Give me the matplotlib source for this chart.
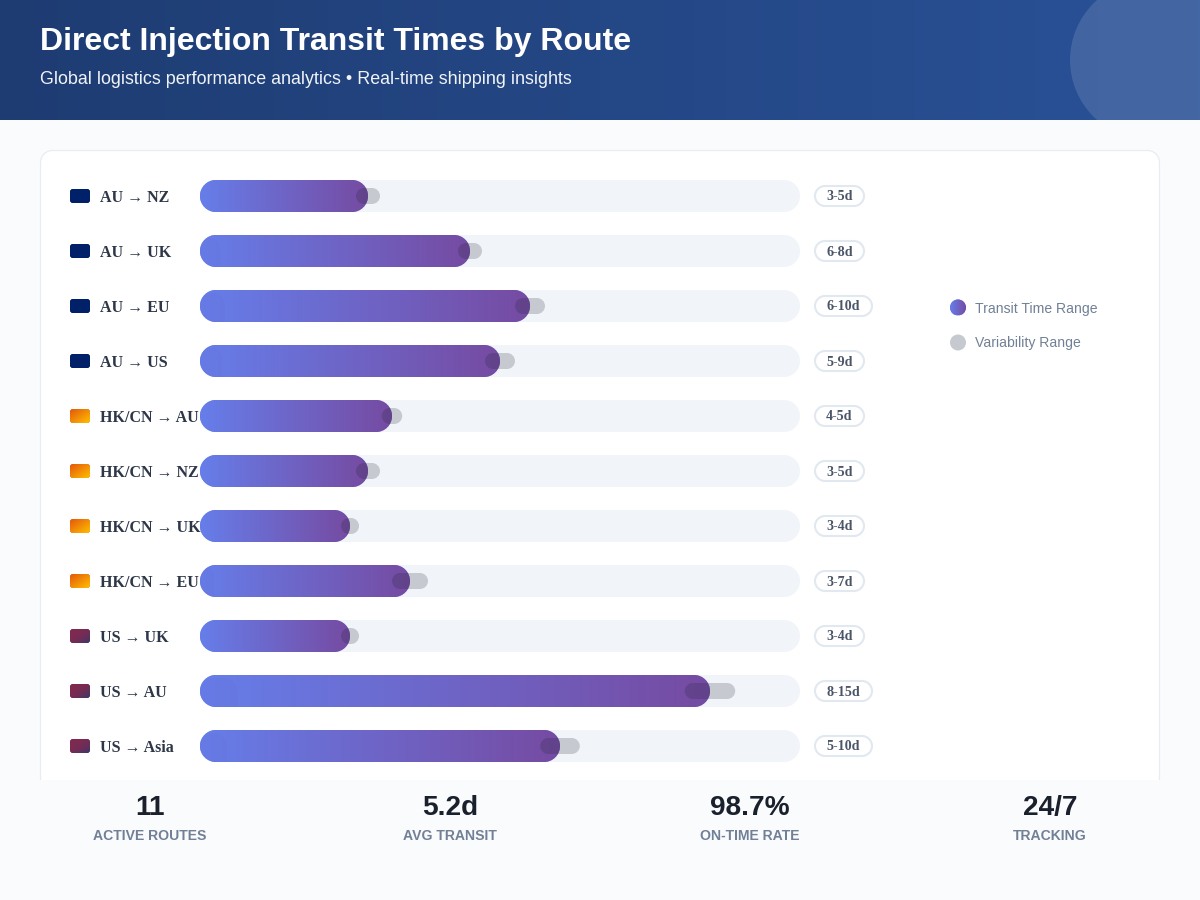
import matplotlib
matplotlib.use('Agg')
import matplotlib.pyplot as plt
import numpy as np
from matplotlib.colors import to_rgb
from matplotlib.patches import Circle, PathPatch, Rectangle
from matplotlib.path import Path

routes = ['AU → NZ', 'AU → UK', 'AU → EU', 'AU → US', 'HK/CN → AU', 'HK/CN → NZ',
          'HK/CN → UK', 'HK/CN → EU', 'US → UK', 'US → AU', 'US → Asia']
ranges = ['3-5d', '6-8d', '6-10d', '5-9d', '4-5d', '3-5d', '3-4d', '3-7d', '3-4d', '8-15d', '5-10d']
origin = ['AU', 'AU', 'AU', 'AU', 'HK', 'HK', 'HK', 'HK', 'US', 'US', 'US']
# percent of the track
bar_pct = [28, 45, 55, 50, 32, 28, 25, 35, 25, 85, 60]
var_start = [26, 43, 52.5, 47.5, 30.3, 26, 23.5, 32, 23.5, 80.8, 56.7]
var_end = [30, 47, 57.5, 52.5, 33.7, 30, 26.5, 38, 26.5, 89.2, 63.3]
pill_w = [49, 49, 57, 49, 49, 49, 49, 49, 49, 57, 57]
# faint patch in the left end of some bars
smudge_w = [0, 20, 25, 22, 0, 0, 0, 14, 0, 38, 27]

stat_values = ['11', '5.2d', '98.7%', '24/7']
stat_labels = ['ACTIVE ROUTES', 'AVG TRANSIT', 'ON-TIME RATE', 'TRACKING']
legend_labels = ['Transit Time Range', 'Variability Range']

SANS = 'Liberation Sans'
SERIF = 'Liberation Serif'
flag_cols = {'AU': ('#012169', '#012169', 1), 'HK': ('#e4570c', '#ffc000', 1), 'US': ('#7f2a50', '#2f3a70', 3)}


def px(size):
    return size * 0.72


def rbox(ax, x, y, w, h, r, **kw):
    # circular corners, boxstyle round gives squarish ones
    r = min(r, w / 2, h / 2)
    k = r * 0.4477
    verts = [(x + r, y), (x + w - r, y),
             (x + w - k, y), (x + w, y + k), (x + w, y + r),
             (x + w, y + h - r),
             (x + w, y + h - k), (x + w - k, y + h), (x + w - r, y + h),
             (x + r, y + h),
             (x + k, y + h), (x, y + h - k), (x, y + h - r),
             (x, y + r),
             (x, y + k), (x + k, y), (x + r, y),
             (x + r, y)]
    codes = [Path.MOVETO, Path.LINETO] + [Path.CURVE4] * 3 + [Path.LINETO] + [Path.CURVE4] * 3 + \
            [Path.LINETO] + [Path.CURVE4] * 3 + [Path.LINETO] + [Path.CURVE4] * 3 + [Path.CLOSEPOLY]
    p = PathPatch(Path(verts, codes), **kw)
    ax.add_patch(p)
    return p


def gradient(ax, x, y, w, h, c0, c1, clip, zorder, diag=False, power=1):
    n = 256
    t = np.linspace(0, 1, n)
    tt = np.tile(t, (n, 1))
    if diag:
        tt = (tt + tt.T) / 2
    tt = tt ** power
    rgb = np.array(to_rgb(c0))[None, None, :] * (1 - tt[..., None]) + np.array(to_rgb(c1))[None, None, :] * tt[..., None]
    im = ax.imshow(rgb, extent=(x, x + w, y + h, y), aspect='auto', zorder=zorder, interpolation='bilinear')
    im.set_clip_path(clip)


fig = plt.figure(figsize=(12, 9), dpi=100, facecolor='#fafbfd')
ax = fig.add_axes([0, 0, 1, 1])
ax.axis('off')

# header
hdr = Rectangle((0, 0), 1200, 120, fc='none', ec='none')
ax.add_patch(hdr)
gradient(ax, 0, 0, 1200, 120, '#1e3c72', '#2a5298', hdr, 1)
ax.add_patch(Circle((1150, 60), 80, fc='white', alpha=0.12, ec='none', zorder=2, clip_path=hdr))
ax.text(40, 42, 'Direct Injection Transit Times by Route', color='white', fontsize=px(32),
        family=SANS, weight='bold', va='center', zorder=3)
ax.text(40, 80, 'Global logistics performance analytics • Real-time shipping insights', color='#f0f3f8',
        fontsize=px(17.9), family=SANS, va='center', zorder=3)

# card
rbox(ax, 40.5, 150.5, 1119, 680, 12, fc='white', ec='#e8edf3', lw=0.9, zorder=1)

row_h = 55
for i, name in enumerate(routes):
    top = 180 + i * row_h
    mid = top + 16
    fc0, fc1, pw = flag_cols[origin[i]]
    flag = rbox(ax, 70, mid - 7, 20, 14, 3, fc=fc0, ec='none', zorder=3)
    gradient(ax, 70, mid - 7, 20, 14, fc0, fc1, flag, 4, diag=True, power=pw)
    ax.text(100, mid + 2, name, color='#2d3748', fontsize=px(16), family=SERIF, weight='bold',
            va='center', zorder=5)

    rbox(ax, 200, top, 600, 32, 16, fc='#f1f4f9', ec='none', zorder=2)
    w = bar_pct[i] / 100 * 600
    bar = rbox(ax, 200, top, w, 32, 16, fc='#667eea', ec='none', zorder=3)
    gradient(ax, 200, top, w, 32, '#667eea', '#764ba2', bar, 4)
    if smudge_w[i]:
        rbox(ax, 200, top + 3, smudge_w[i], 40, 14, fc='#764ba2', alpha=0.05, ec='none', zorder=4.5,
             clip_path=bar)
    x0 = 200 + var_start[i] / 100 * 600
    x1 = 200 + var_end[i] / 100 * 600
    rbox(ax, x0, mid - 8, x1 - x0, 16, 8, fc='#1a202c', alpha=0.2, ec='none', zorder=5)

    rbox(ax, 815, mid - 10, pill_w[i], 20, 10, fc='white', ec='#e2e8f0', lw=1.5, zorder=3)
    ax.text(815 + pill_w[i] / 2, mid + 1, ranges[i], color='#4a5568', fontsize=px(14), family=SERIF,
            weight='bold', ha='center', va='center', zorder=5)

# legend
dot = Circle((958, 307.5), 8, fc='#667eea', ec='none', zorder=3)
ax.add_patch(dot)
gradient(ax, 950, 299.5, 16, 16, '#667eea', '#764ba2', dot, 4)
ax.add_patch(Circle((958, 342.5), 8, fc='#c6c9d0', ec='none', zorder=3))
for y, lab in zip([308.5, 343.5], legend_labels):
    ax.text(975, y, lab, color='#718096', fontsize=px(14), family=SANS, va='center', zorder=5)

# footer stats
ax.add_patch(Rectangle((0, 780), 1200, 120, fc='#fafbfd', ec='none', zorder=6))
for i in range(len(stat_values)):
    cx = 150 + i * 300
    ax.text(cx, 808, stat_values[i], color='#1a202c', fontsize=px(28), family=SANS, weight='bold',
            ha='center', va='center', zorder=7)
    ax.text(cx, 836, stat_labels[i], color='#718096', fontsize=px(14), family=SANS, weight='bold',
            ha='center', va='center', zorder=7)

ax.set_xlim(0, 1200)
ax.set_ylim(900, 0)
fig.savefig('out.png', dpi=100, facecolor=fig.get_facecolor())
